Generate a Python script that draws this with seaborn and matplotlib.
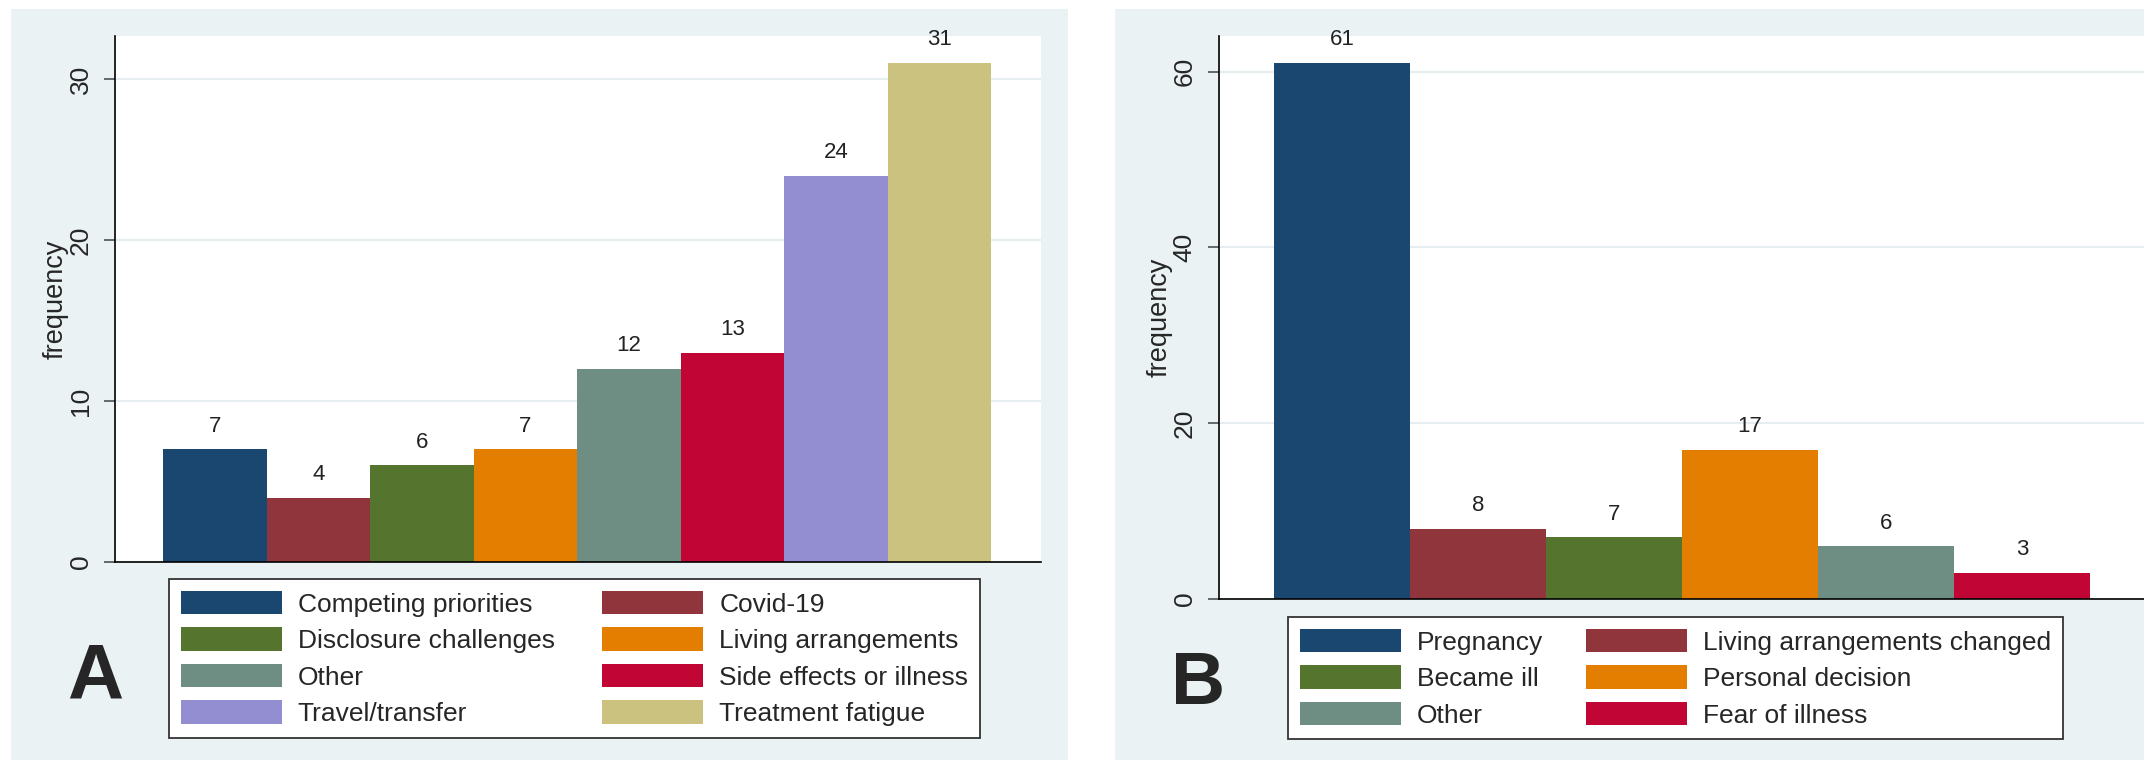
import matplotlib
matplotlib.use("Agg")
import matplotlib.pyplot as plt
from matplotlib.patches import Rectangle
import seaborn as sns

# ---------------- data ----------------
cats_a = ["Competing priorities", "Covid-19", "Disclosure challenges", "Living arrangements",
          "Other", "Side effects or illness", "Travel/transfer", "Treatment fatigue"]
vals_a = [7, 4, 6, 7, 12, 13, 24, 31]

cats_b = ["Pregnancy", "Living arrangements changed", "Became ill", "Personal decision",
          "Other", "Fear of illness"]
vals_b = [61, 8, 7, 17, 6, 3]

yticks_a = [0, 10, 20, 30]
yticks_b = [0, 20, 40, 60]

colors_a = ["#1a476f", "#90353b", "#55752f", "#e37e00", "#6e8e84", "#c10534", "#938dd2", "#cac27e"]
colors_b = ["#1a476f", "#90353b", "#55752f", "#e37e00", "#6e8e84", "#c10534"]

panel_labels = ["A", "B"]

# ---------------- style ----------------
sns.set_theme(style="white")
plt.rcParams["font.family"] = ["Liberation Sans", "DejaVu Sans"]

W, H = 2144, 768
BG = "#eaf2f3"
GRID = "#e6eef1"

fig = plt.figure(figsize=(W / 100, H / 100), dpi=100)
fig.patch.set_facecolor("white")


def frac(l, t, r, b):
    return [l / W, 1 - b / H, (r - l) / W, (b - t) / H]


# panel backgrounds
for (l, t, r, b) in [(11, 9, 1068, 760), (1115, 9, 2150, 760)]:
    x, y, w, h = frac(l, t, r, b)
    fig.add_artist(Rectangle((x, y), w, h, transform=fig.transFigure,
                             facecolor=BG, edgecolor="none", zorder=-10))


def draw_panel(ax_rect, cats, vals, colors, yticks, ymax, xlim, leg_anchor, ncol_order, colspace):
    ax = fig.add_axes(frac(*ax_rect))
    ax.set_facecolor("white")
    sns.barplot(x=cats, y=vals, hue=cats, palette=colors, width=1.0, dodge=False,
                saturation=1, linewidth=0, legend=False, ax=ax)
    ax.set_ylim(0, ymax)
    ax.set_xlim(*xlim)
    ax.set_yticks(yticks)
    ax.set_yticklabels([str(v) for v in yticks], fontsize=19, rotation=90, va="center")
    ax.set_xticks([])
    ax.set_xlabel("")
    ax.set_ylabel("frequency", fontsize=19.5, labelpad=0)
    ax.tick_params(axis="y", length=8, width=1.1, color="#444444", pad=8, left=True)
    ax.yaxis.grid(True, color=GRID, lw=1.6)
    ax.set_axisbelow(True)
    for s in ["top", "right"]:
        ax.spines[s].set_visible(False)
    for s in ["left", "bottom"]:
        ax.spines[s].set_color("black")
        ax.spines[s].set_linewidth(1.2)
    for c in ax.containers:
        ax.bar_label(c, padding=9, fontsize=16, color="#222222")
    handles = [c.patches[0] for c in ax.containers]
    order = ncol_order
    leg = ax.legend([handles[i] for i in order], [cats[i] for i in order],
                    ncol=2, fontsize=19, loc="upper left",
                    bbox_to_anchor=(leg_anchor[0] / W, 1 - leg_anchor[1] / H),
                    bbox_transform=fig.transFigure, borderaxespad=0,
                    frameon=True, fancybox=False, edgecolor="#333333",
                    facecolor="white", framealpha=1,
                    handlelength=3.83, handleheight=1.0, labelspacing=0.4,
                    handletextpad=0.6, columnspacing=colspace, borderpad=0.45)
    leg.get_frame().set_linewidth(1.3)
    return ax


ax_a = draw_panel((115, 36, 1041, 562), cats_a, vals_a, colors_a, yticks_a, 32.67,
                  (-0.964, 7.98), (169, 579), [0, 2, 4, 6, 1, 3, 5, 7], 1.8)
ax_b = draw_panel((1219, 36, 2146, 599), cats_b, vals_b, colors_b, yticks_b, 64.05,
                  (-0.904, 5.91), (1288, 617), [0, 2, 4, 1, 3, 5], 1.62)

# panel letters
fig.text(95 / W, 1 - 678 / H, panel_labels[0], fontsize=56, fontweight="bold",
         ha="center", va="center", family=["Liberation Sans", "DejaVu Sans"])
fig.text(1198 / W, 1 - 685 / H, panel_labels[1], fontsize=54, fontweight="bold",
         ha="center", va="center", family=["Liberation Sans", "DejaVu Sans"])

fig.savefig("out.png", dpi=100)
